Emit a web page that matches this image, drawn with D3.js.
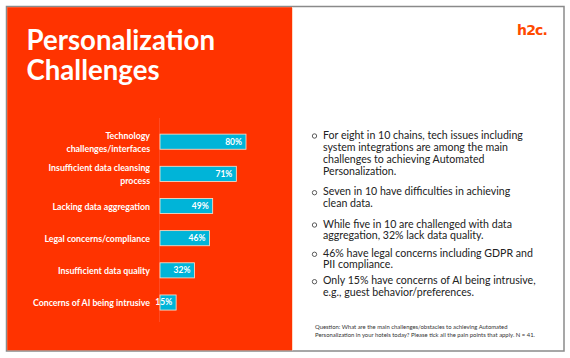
<!DOCTYPE html>
<html><head><meta charset="utf-8">
<script src="https://cdn.jsdelivr.net/npm/d3@7"></script>
<style>body{margin:0;background:#fff}svg{display:block}</style>
</head><body>
<svg id="c" width="570" height="358"></svg>
<script>
const categories = [
  ["Technology", "challenges/interfaces"],
  ["Insufficient data cleansing", "process"],
  ["Lacking data aggregation"],
  ["Legal concerns/compliance"],
  ["Insufficient data quality"],
  ["Concerns of AI being intrusive"]
];
const values = [80, 71, 49, 46, 32, 15];
const valueLabels = ["80%", "71%", "49%", "46%", "32%", "15%"];
const titleLines = ["Personalization", "Challenges"];
const bullets = [
  ["For eight in 10 chains, tech issues including", "system integrations are among the main", "challenges to achieving Automated", "Personalization."],
  ["Seven in 10 have difficulties in achieving", "clean data."],
  ["While five in 10 are challenged with data", "aggregation, 32% lack data quality."],
  ["46% have legal concerns including GDPR and", "PII compliance."],
  ["Only 15% have concerns of AI being intrusive,", "e.g., guest behavior/preferences."]
];
const footnote = ["Question: What are the main challenges/obstacles to achieving Automated",
  "Personalization in your hotels today? Please tick all the pain points that apply.  N = 41."];
const logo = "h2c.";

const svg = d3.select("#c");
const RED = "#ff3300", CYAN = "#00b4d8";

// frame and panels
svg.append("rect").attr("x", 6.5).attr("y", 6.5).attr("width", 557.5).attr("height", 344.5)
  .attr("fill", "#fff").attr("stroke", "#8a8a8a").attr("stroke-width", 1.5);
svg.append("rect").attr("x", 7.2).attr("y", 7.2).attr("width", 284.8).attr("height", 343.1).attr("fill", RED);
svg.append("line").attr("x1", 292.5).attr("x2", 292.5).attr("y1", 7.2).attr("y2", 350.3)
  .attr("stroke", "#ffd9c4").attr("stroke-width", 1);

// title
const title = svg.append("g").attr("font-family", "Lato, 'Open Sans', sans-serif")
  .attr("font-weight", "bold").attr("fill", "#fff").attr("font-size", 27.6);
titleLines.forEach((t, i) => title.append("text").attr("x", 26.5).attr("y", 50 + i * 30).text(t));

// bars
const x = d3.scaleLinear().domain([0, 100]).range([160, 267.5]);
const y = d3.scaleBand().domain(d3.range(values.length)).range([125.6, 318.6]).paddingInner(0.53).paddingOuter(0.265);

svg.append("line").attr("x1", x(0) - 0.5).attr("x2", x(0) - 0.5).attr("y1", 118).attr("y2", 322)
  .attr("stroke", "#ff4a22").attr("stroke-width", 1);

const g = svg.append("g");
g.selectAll("rect.bar").data(values).join("rect").attr("class", "bar")
  .attr("x", x(0)).attr("y", (d, i) => y(i)).attr("width", d => x(d) - x(0)).attr("height", y.bandwidth())
  .attr("fill", CYAN).attr("stroke", "#ffe3cc").attr("stroke-width", 0.8);

g.selectAll("text.val").data(values).join("text").attr("class", "val")
  .attr("x", d => x(d) - 4).attr("y", (d, i) => y(i) + y.bandwidth() / 2)
  .attr("dy", "0.35em").attr("text-anchor", "end")
  .attr("font-family", "Lato, sans-serif").attr("font-weight", "bold").attr("font-size", 8.5)
  .attr("fill", "#fff").text((d, i) => valueLabels[i]);

// category labels
categories.forEach((lines, i) => {
  const cy = y(i) + y.bandwidth() / 2 + 0.7;
  const lh = 12.6;
  const t = svg.append("text").attr("text-anchor", "end")
    .attr("font-family", "Lato, sans-serif").attr("font-weight", "bold").attr("font-size", 8.8).attr("fill", "#fff");
  lines.forEach((l, j) => {
    t.append("tspan").attr("x", 150).attr("y", cy + (j - (lines.length - 1) / 2) * lh).attr("dy", "0.35em").text(l);
  });
});

// logo
svg.append("text").attr("x", 517).attr("y", 35).attr("font-family", "'DejaVu Sans', sans-serif")
  .attr("font-weight", "bold").attr("font-size", 14).attr("fill", "#ff4a00").attr("letter-spacing", -0.8).text(logo);

// bullets
const bstarts = [135, 191.7, 224, 253.3, 280.7];
const bl = svg.append("g").attr("font-family", "Lato, sans-serif").attr("font-size", 10.6).attr("fill", "#222");
bullets.forEach((lines, i) => {
  bl.append("circle").attr("cx", 314.5).attr("cy", bstarts[i] + 1).attr("r", 2.2)
    .attr("fill", "none").attr("stroke", "#333").attr("stroke-width", 0.8);
  lines.forEach((l, j) => {
    bl.append("text").attr("x", 323).attr("y", bstarts[i] + j * (i === 0 ? 12.2 : 11.4)).attr("dy", "0.35em").text(l);
  });
});

// footnote
const fn = svg.append("g").attr("font-family", "Lato, sans-serif").attr("font-size", 5.9).attr("fill", "#333");
footnote.forEach((l, j) => fn.append("text").attr("x", 315).attr("y", 327.3 + j * 8).attr("dy", "0.35em").text(l));
</script>
</body></html>
